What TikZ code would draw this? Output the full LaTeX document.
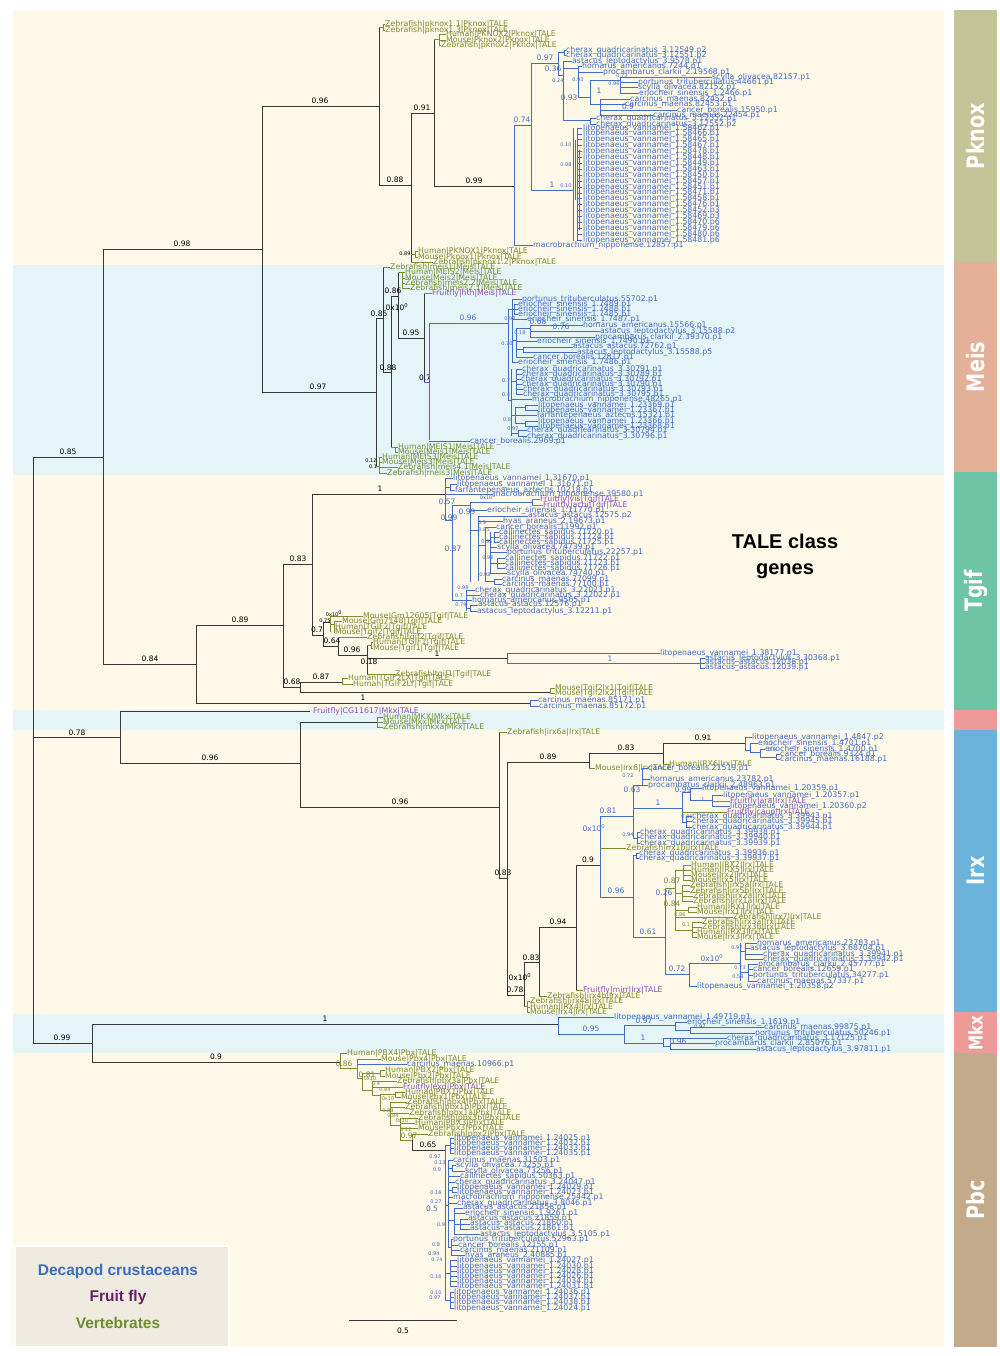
\documentclass[tikz,border=0pt]{standalone}
\usepackage{fontspec}
\setmainfont{DejaVu Sans}
\newfontfamily\legfont{Liberation Sans}
\newfontfamily\sidefont{DejaVu Sans}[FakeStretch=0.8]
\catcode`\_=12
\definecolor{cream}{RGB}{253,248,231}
\definecolor{lblue}{RGB}{229,244,247}
\definecolor{cb}{RGB}{68,108,196}
\definecolor{cv}{RGB}{122,142,50}
\definecolor{cf}{RGB}{140,78,190}
\definecolor{lk}{RGB}{55,55,55}
\definecolor{cPk}{RGB}{195,197,152}
\definecolor{cMe}{RGB}{229,176,152}
\definecolor{cTg}{RGB}{110,197,166}
\definecolor{cPi}{RGB}{238,154,152}
\definecolor{cIr}{RGB}{107,179,218}
\definecolor{cPb}{RGB}{194,170,138}
\definecolor{legbg}{RGB}{239,235,224}
\definecolor{legb}{RGB}{60,110,190}
\definecolor{legf}{RGB}{105,30,105}
\definecolor{legv}{RGB}{112,140,50}
\newcounter{nn}
\newcommand\Lb[3]{\stepcounter{nn}\node[lf,text=cb] (n\thenn) at (#1,#2) {#3};}
\newcommand\Lv[3]{\stepcounter{nn}\node[lf,text=cv] (n\thenn) at (#1,#2) {#3};}
\newcommand\Lp[3]{\stepcounter{nn}\node[lf,text=cf] (n\thenn) at (#1,#2) {#3};}
\newcommand\Bk[3]{\stepcounter{nn}\node[bsk,text=black] (n\thenn) at (#1,#2) {#3};}
\newcommand\Bb[3]{\stepcounter{nn}\node[bsk,text=cb] (n\thenn) at (#1,#2) {#3};}
\newcommand\Bv[3]{\stepcounter{nn}\node[bsk,text=cv] (n\thenn) at (#1,#2) {#3};}
\newcommand\Sk[3]{\stepcounter{nn}\node[sml,text=black] (n\thenn) at (#1,#2) {#3};}
\newcommand\Sb[3]{\stepcounter{nn}\node[sml,text=cb] (n\thenn) at (#1,#2) {#3};}
\newcommand\Sv[3]{\stepcounter{nn}\node[sml,text=cv] (n\thenn) at (#1,#2) {#3};}
\newcommand\TB[4]{\draw[tb] (#1,#3) -- (#2,#3); \Lb{#2}{#3}{#4}}
\newcommand\TV[4]{\draw[tv] (#1,#3) -- (#2,#3); \Lv{#2}{#3}{#4}}
\newcommand\TP[4]{\draw[tv] (#1,#3) -- (#2,#3); \Lp{#2}{#3}{#4}}
\newcommand\XO{0x10\textsuperscript{0}}
\begin{document}
\begin{tikzpicture}[x=1pt,y=-1pt,
  lf/.style={anchor=west,inner sep=0pt,font=\fontsize{7.8}{8}\selectfont},
  bsk/.style={inner sep=0pt,font=\fontsize{7.5}{8}\selectfont},
  sml/.style={inner sep=0pt,font=\fontsize{5}{5}\selectfont},
  tk/.style={draw=lk,line width=0.9pt},
  tb/.style={draw=cb,line width=0.6pt},
  tv/.style={draw=cv,line width=0.6pt},
  side/.style={text=white,rotate=90,font=\sidefont\bfseries\fontsize{24}{24}\selectfont},
  legt/.style={font=\legfont\bfseries\fontsize{15.5}{16}\selectfont}]
\useasboundingbox (0,0) rectangle (1000,1356);
% backgrounds
\fill[white] (0,0) rectangle (1000,1356);
\fill[cream] (13,10) rectangle (944,1347);
\fill[lblue] (13,265) rectangle (944,475);
\fill[lblue] (13,710) rectangle (944,730);
\fill[lblue] (13,1014) rectangle (944,1053);
% side bar
\fill[cPk] (954,10) rectangle (997,262);
\fill[cMe] (954,262) rectangle (997,472);
\fill[cTg] (954,472) rectangle (997,710);
\fill[cPi] (954,710) rectangle (997,730);
\fill[cIr] (954,730) rectangle (997,1012);
\fill[cPi] (954,1012) rectangle (997,1053);
\fill[cPb] (954,1053) rectangle (997,1347);
\node[side] (sPk) at (975.5,136) {Pknox};
\node[side] (sMe) at (975.5,367) {Meis};
\node[side] (sTg) at (975.5,591) {Tgif};
\node[side] (sIr) at (975.5,871) {Irx};
\node[side,font=\sidefont\bfseries\fontsize{19}{19}\selectfont] (sMk) at (975.5,1033) {Mkx};
\node[side] (sPb) at (975.5,1200) {Pbc};
% legend
\fill[legbg,draw=white,line width=1.5pt] (15,1246) rectangle (229,1347);
\node[legt,text=legb] (lg1) at (118,1271) {Decapod crustaceans};
\node[legt,text=legf] (lg2) at (118,1297) {Fruit fly};
\node[legt,text=legv] (lg3) at (118,1323) {Vertebrates};
\node[font=\legfont\bfseries\fontsize{20}{26}\selectfont,align=center] (tale) at (785,556) {TALE class\\genes};
% scale bar
\draw[line width=1pt,lk] (349,1320) -- (457,1320);
\Bk{403}{1331}{0.5}

% ================= backbone (black)
\draw[tk] (33,457) -- (33,1043) (33,457) -- (103,457)
  (103,249) -- (103,664) (103,249) -- (262,249)
  (262,106) -- (262,392) (262,106) -- (379,106)
  (379,27) -- (379,185) (379,185) -- (411,185)
  (411,113) -- (411,262) (411,113) -- (434,113)
  (434,39) -- (434,186) (434,186) -- (514,186);
\Bk{68}{452}{0.85} \Bk{182}{244}{0.98} \Bk{320}{101}{0.96} \Bk{395}{180}{0.88}
\Bk{422}{108}{0.91} \Bk{474}{181}{0.99} \Sk{405}{254}{0.89}
% Pknox vertebrates
\draw[tv] (379,27) -- (383,27) (383,24) -- (383,30) (434,39) -- (439,39) (439,34) -- (439,45)
  (411,254) -- (415,254) (415,251) -- (415,257);
\TV{383}{385}{24}{Zebrafish|pknox1.1|Pknox|TALE}
\TV{383}{385}{30}{Zebrafish|pknox1.3|Pknox|TALE}
\TV{439}{446}{34}{Human|PKNOX2|Pknox|TALE}
\TV{439}{446}{40}{Mouse|Pknox2|Pknox|TALE}
\TV{439}{441}{45}{Zebrafish|pknox2|Pknox|TALE}
\TV{415}{418}{251}{Human|PKNOX1|Pknox|TALE}
\TV{415}{418}{257}{Mouse|Pknox1|Pknox|TALE}
\TV{411}{433}{262}{Zebrafish|pknox1.2|Pknox|TALE}
% Pknox crustaceans
\draw[tb] (514,125) -- (514,245) (514,125) -- (531,125)
  (531,63) -- (531,190) (531,63) -- (558,63) (531,190) -- (573,190)
  (558,52) -- (558,75) (558,52) -- (564,52) (564,50) -- (564,55)
  (558,75) -- (563,75) (563,61) -- (563,120) (563,68) -- (578,68) (578,66) -- (578,97)
  (578,97) -- (590,97) (590,80) -- (590,104) (590,80) -- (620,80) (620,77) -- (620,93)
  (590,104) -- (600,104) (600,99) -- (600,115) (563,120) -- (590,120) (590,118) -- (590,124);
\TB{514}{533}{245}{macrobrachium_nipponense.12857.p1}
\TB{564}{566}{50}{cherax_quadricarinatus_3.12549.p2}
\TB{564}{566}{55}{cherax_quadricarinatus_3.12551.p2}
\TB{563}{572}{61}{astacus_leptodactylus_3.9578.p1}
\TB{578}{582}{66}{homarus_americanus.7244.p1}
\TB{578}{603}{72}{procambarus_clarkii_2.19568.p1}
\TB{620}{712}{77}{scylla_olivacea.82157.p1}
\TB{620}{638}{82}{portunus_trituberculatus.44661.p1}
\TB{620}{638}{87}{scylla_olivacea.82152.p1}
\TB{620}{639}{93}{eriocheir_sinensis_1.2466.p1}
\TB{600}{630}{99}{carcinus_maenas.82452.p1}
\TB{600}{625}{104}{carcinus_maenas.82453.p1}
\TB{600}{677}{110}{cancer_borealis.15950.p1}
\TB{600}{653}{115}{carcinus_maenas.22454.p1}
\TB{590}{596}{118}{cherax_quadricarinatus_3.12552.p1}
\TB{590}{596}{124}{cherax_quadricarinatus_3.12552.p2}
\Bb{522}{120}{0.74} \Bb{545}{58}{0.97} \Bb{552}{185}{1} \Bb{553}{69}{0.36}
\Sb{558}{81}{0.24} \Sb{578}{80}{0.93} \Bb{569}{98}{0.93} \Bb{599}{91}{1}
\Sb{622}{76}{0.73} \Sb{614}{84}{0.96} \Bb{628}{107}{0.9}
\draw[tb] (573,128) -- (573,241) (577,128) -- (577,241) (575,140) -- (575,200) (579,150) -- (579,230);
\foreach \id [count=\i from 0] in {1.58462.p1,1.58466.p1,1.58465.p1,1.58467.p1,1.58478.p1,1.58448.p1,1.58449.p1,1.58463.p1,1.58450.p1,1.58457.p1,1.58451.p1,1.58471.p1,1.58458.p1,1.58476.p1,1.58452.p3,1.58469.p3,1.58470.p6,1.58479.p6,1.58480.p6,1.58481.p6}{
  \pgfmathsetmacro\yy{128+\i*5.9}
  \draw[tb] (577,\yy) -- (582,\yy);
  \node[lf,text=cb] (lpk\i) at (583,\yy) {litopenaeus_vannamei_\id};
}
\Sb{566}{145}{0.10} \Sb{566}{165}{0.98} \Sb{566}{186}{0.10}

% ================= Meis
\draw[tk] (262,392) -- (376,392) (376,318) -- (376,466) (376,318) -- (383,318)
  (383,267) -- (383,372) (383,372) -- (391,372) (391,296) -- (391,447) (391,296) -- (398,296)
  (398,272) -- (398,338) (398,338) -- (424,338) (424,293) -- (424,382);
\Bk{318}{387}{0.97} \Bk{379}{314}{0.85} \Bk{393}{291}{0.86} \Bk{397}{307}{\XO}
\Bk{411}{333}{0.95} \Bk{388}{368}{0.88} \Bk{425}{378}{0.7} \Sk{371}{461}{0.12} \Sk{373}{467}{0.1}
\draw[tv] (398,272) -- (402,272) (402,272) -- (402,288) (391,447) -- (395,447) (395,447) -- (395,452)
  (376,466) -- (379,466) (379,457) -- (379,473);
\TV{383}{390}{267}{Zebrafish|meis1|Meis|TALE}
\TV{402}{405}{272}{Human|MEIS2|Meis|TALE}
\TV{402}{405}{278}{Mouse|Meis2|Meis|TALE}
\TV{402}{405}{283}{Zebrafish|meis2.2|Meis|TALE}
\TV{402}{410}{288}{Zebrafish|meis2.1|Meis|TALE}
\TP{424}{432}{293}{Fruitfly|hth|Meis|TALE}
\TV{395}{398}{447}{Human|MEIS1|Meis|TALE}
\TV{395}{398}{452}{Mouse|Meis1|Meis|TALE}
\TV{379}{382}{457}{Human|MEIS3|Meis|TALE}
\TV{379}{382}{462}{Mouse|Meis3|Meis|TALE}
\TV{379}{398}{467}{Zebrafish|meis4.1|Meis|TALE}
\TV{379}{387}{473}{Zebrafish|meis3|Meis|TALE}
\draw[tb] (424,382) -- (429,382) (429,323) -- (429,440) (429,323) -- (508,323)
  (508,309) -- (508,400) (508,309) -- (512,309) (508,400) -- (511,400)
  (512,299) -- (512,362) (512,309) -- (514,309) (514,304) -- (514,314)
  (512,340) -- (516,340) (516,328) -- (516,357) (516,328) -- (530,328) (530,325) -- (530,337)
  (516,349) -- (523,349) (523,347) -- (523,352)
  (511,369) -- (511,436) (511,381) -- (516,381) (516,369) -- (516,394)
  (511,415) -- (515,415) (515,407) -- (515,423) (515,407) -- (525,407) (525,405) -- (525,410)
  (515,423) -- (525,423) (525,421) -- (525,426) (511,433) -- (518,433) (518,430) -- (518,436);
\Bb{468}{318}{0.96}
\TB{512}{522}{299}{portunus_trituberculatus.55702.p1}
\TB{514}{518}{304}{eriocheir_sinensis_1.7489.p1}
\TB{514}{518}{309}{eriocheir_sinensis_1.7488.p1}
\TB{514}{518}{314}{eriocheir_sinensis_1.7485.p1}
\TB{512}{527}{319}{eriocheir_sinensis_1.7487.p1}
\TB{530}{583}{325}{homarus_americanus.15566.p1}
\TB{530}{600}{331}{astacus_leptodactylus_3.15588.p2}
\TB{530}{595}{337}{procambarus_clarkii_2.39370.p1}
\TB{516}{537}{341}{eriocheir_sinensis_1.7490.p1}
\TB{523}{573}{347}{astacus_astacus.72762.p1}
\TB{523}{577}{352}{astacus_leptodactylus_3.15588.p5}
\TB{516}{533}{357}{cancer_borealis.12817.p1}
\TB{512}{518}{362}{eriocheir_sinensis_1.7486.p1}
\TB{516}{522}{369}{cherax_quadricarinatus_3.30791.p1}
\TB{516}{522}{374}{cherax_quadricarinatus_3.30789.p1}
\TB{516}{521}{379}{cherax_quadricarinatus_3.30792.p1}
\TB{516}{522}{384}{cherax_quadricarinatus_3.30790.p1}
\TB{516}{523}{389}{cherax_quadricarinatus_3.30793.p1}
\TB{516}{523}{394}{cherax_quadricarinatus_3.30795.p1}
\TB{511}{532}{399}{macrobrachium_nipponense.48265.p1}
\TB{525}{538}{405}{litopenaeus_vannamei_1.23369.p1}
\TB{525}{538}{410}{litopenaeus_vannamei_1.23367.p1}
\TB{515}{537}{415}{farfantepenaeus_aztecus.15321.p1}
\TB{525}{538}{421}{litopenaeus_vannamei_1.23366.p1}
\TB{525}{538}{426}{litopenaeus_vannamei_1.23368.p1}
\TB{518}{527}{430}{cherax_quadricarinatus_3.30794.p1}
\TB{518}{527}{436}{cherax_quadricarinatus_3.30796.p1}
\TB{429}{470}{441}{cancer_borealis.2969.p1}
\Bb{538}{322}{0.68} \Bb{561}{327}{0.76} \Sb{510}{319}{0.98} \Sb{507}{344}{0.70} \Sb{520}{333}{0.18}
\Sb{506}{381}{0.7} \Sb{506}{395}{0.4} \Sb{507}{420}{0.8} \Sb{513}{429}{0.97}

% ================= Tgif
\draw[tk] (103,664) -- (196,664) (196,625) -- (196,703) (196,625) -- (283,625)
  (283,564) -- (283,687) (283,564) -- (312,564) (312,494) -- (312,635) (312,494) -- (445,494)
  (312,635) -- (323,635) (323,622) -- (323,646) (323,622) -- (330,622)
  (323,646) -- (338,646) (338,637) -- (338,655) (338,655) -- (367,655)
  (367,645) -- (367,674) (367,658) -- (507,658)
  (283,687) -- (300,687) (300,682) -- (300,692) (300,682) -- (342,682) (300,692) -- (550,692)
  (196,703) -- (530,703);
\Bk{150}{659}{0.84} \Bk{240}{620}{0.89} \Bk{298}{559}{0.83} \Bk{380}{489}{1}
\Bk{317}{630}{0.7} \Bk{332}{641}{0.64} \Bk{352}{650}{0.96} \Bk{369}{662}{0.18}
\Bk{437}{654}{1} \Bk{292}{682}{0.68} \Bk{321}{677}{0.87} \Bk{363}{698}{1}
\Sk{325}{621}{0.75} \Sk{334}{614}{\XO}
\draw[tv] (330,616) -- (330,632) (330,624) -- (334,624) (334,621) -- (334,632)
  (367,645) -- (371,645) (371,642) -- (371,648) (342,678) -- (342,684) (550,688) -- (550,693);
\TV{330}{363}{616}{Mouse|Gm12605|Tgif|TALE}
\TV{334}{342}{621}{Mouse|Gm7148|Tgif|TALE}
\TV{334}{335}{627}{Human|TGIF2|Tgif|TALE}
\TV{334}{335}{632}{Mouse|Tgif2|Tgif|TALE}
\TV{338}{367}{637}{Zebrafish|tgif2|Tgif|TALE}
\TV{371}{373}{642}{Human|TGIF1|Tgif|TALE}
\TV{371}{373}{648}{Mouse|Tgif1|Tgif|TALE}
\TV{367}{395}{674}{Zebrafish|tgif1|Tgif|TALE}
\TV{342}{348}{678}{Human|TGIF2LX|Tgif|TALE}
\TV{342}{353}{684}{Human|TGIF2LY|Tgif|TALE}
\TV{550}{555}{688}{Mouse|Tgif2lx1|Tgif|TALE}
\TV{550}{555}{693}{Mouse|Tgif2lx2|Tgif|TALE}
% Tgif crustaceans
\draw[tb] (445,478) -- (445,520) (445,487) -- (450,487) (450,484) -- (450,490)
  (445,520) -- (452,520) (452,505) -- (452,600) (452,505) -- (470,505)
  (470,502) -- (470,582) (470,502) -- (532,502) (532,499) -- (532,505)
  (470,530) -- (478,530) (478,516) -- (478,581) (478,545) -- (485,545) (485,527) -- (485,581)
  (485,540) -- (490,540) (490,532) -- (490,573) (490,537) -- (494,537) (494,532) -- (494,542)
  (490,563) -- (497,563) (497,558) -- (497,568) (485,581) -- (494,581) (494,579) -- (494,584)
  (452,600) -- (466,600) (466,590) -- (466,611) (466,608) -- (470,608) (470,605) -- (470,611);
\TB{445}{453}{478}{litopenaeus_vannamei_1.31670.p1}
\TB{450}{457}{484}{litopenaeus_vannamei_1.31671.p1}
\TB{450}{455}{490}{farfantepenaeus_aztecus.10218.p1}
\TB{445}{493}{494}{macrobrachium_nipponense.39580.p1}
\TP{532}{540}{499}{Fruitfly|vis|Tgif|TALE}
\TP{532}{543}{505}{Fruitfly|achi|Tgif|TALE}
\TB{470}{487}{510}{eriocheir_sinensis_1.11770.p1}
\TB{478}{528}{516}{astacus_astacus.12575.p2}
\TB{478}{503}{521}{hyas_araneus_2.19673.p1}
\TB{485}{496}{527}{cancer_borealis.11992.p1}
\TB{494}{499}{532}{callinectes_sapidus.71720.p1}
\TB{494}{499}{537}{callinectes_sapidus.71724.p1}
\TB{494}{499}{542}{callinectes_sapidus.71725.p1}
\TB{490}{497}{547}{scylla_olivacea.74739.p1}
\TB{490}{507}{552}{portunus_trituberculatus.22257.p1}
\TB{497}{505}{558}{callinectes_sapidus.71722.p1}
\TB{497}{505}{563}{callinectes_sapidus.71723.p1}
\TB{497}{505}{568}{callinectes_sapidus.71726.p1}
\TB{490}{507}{573}{scylla_olivacea.74740.p1}
\TB{494}{502}{579}{carcinus_maenas.77099.p1}
\TB{494}{502}{584}{carcinus_maenas.77100.p1}
\TB{466}{475}{590}{cherax_quadricarinatus_3.22023.p1}
\TB{466}{480}{595}{cherax_quadricarinatus_3.22022.p1}
\TB{466}{472}{600}{homarus_americanus.9565.p1}
\TB{470}{478}{605}{astacus_astacus.12576.p1}
\TB{470}{477}{611}{astacus_leptodactylus_3.12211.p1}
\Bb{447}{502}{0.57} \Bb{449}{518}{0.99} \Bb{453}{549}{0.87} \Bb{467}{512}{0.99}
\Sb{488}{497}{\XO} \Sb{482}{523}{0.9} \Sb{484}{530}{0.85} \Sb{487}{542}{0.95} \Sb{488}{558}{0.98}
\Sb{485}{575}{0.98} \Sb{463}{588}{0.98} \Sb{459}{596}{0.7} \Sb{461}{605}{0.78}
\draw[tb] (507,653) -- (507,663) (507,663) -- (700,663) (700,658) -- (700,668) (530,700) -- (530,706);
\TB{507}{660}{653}{litopenaeus_vannamei_1.38177.p1}
\TB{700}{705}{658}{astacus_leptodactylus_3.30368.p1}
\TB{700}{705}{663}{astacus_astacus.12038.p1}
\TB{700}{705}{668}{astacus_astacus.12039.p1}
\TB{530}{538}{700}{carcinus_maenas.85171.p1}
\TB{530}{539}{706}{carcinus_maenas.85172.p1}
\Bb{610}{659}{1}

% ================= Mkx (fly, vertebrates) and Irx
\draw[tk] (33,737) -- (120,737) (120,711) -- (120,763) (120,711) -- (310,711)
  (120,763) -- (300,763) (300,722) -- (300,807) (300,722) -- (377,722)
  (300,807) -- (499,807) (499,732) -- (499,878) (499,878) -- (507,878)
  (507,762) -- (507,995) (507,762) -- (589,762) (589,753) -- (589,768) (589,753) -- (663,753)
  (663,743) -- (663,764) (663,743) -- (745,743)
  (507,995) -- (524,995) (524,962) -- (524,1006) (524,962) -- (539,962)
  (539,927) -- (539,996) (539,927) -- (576,927) (576,865) -- (576,990) (576,865) -- (600,865);
\Bk{77}{733}{0.78} \Bk{210}{758}{0.96} \Bk{400}{802}{0.96}
\Bk{503}{873}{0.83} \Bk{548}{757}{0.89} \Bk{626}{748}{0.83} \Bk{703}{738}{0.91}
\Bk{588}{860}{0.9} \Bk{558}{922}{0.94} \Bk{531}{958}{0.83} \Bk{520}{977}{\XO} \Bk{515}{990}{0.78}
\Lp{313}{711}{Fruitfly|CG11617|Mkx|TALE}
\draw[tv] (377,717) -- (377,727) (524,1006) -- (527,1006) (527,1001) -- (527,1012);
\TV{377}{383}{717}{Human|MKX|Mkx|TALE}
\TV{377}{383}{722}{Mouse|Mkx|Mkx|TALE}
\TV{377}{383}{727}{Zebrafish|mkxa|Mkx|TALE}
\TV{499}{507}{732}{Zebrafish|irx6a|Irx|TALE}
\TV{589}{595}{768}{Mouse|Irx6|Irx|TALE}
\TV{663}{669}{764}{Human|IRX6|Irx|TALE}
\TP{576}{583}{990}{Fruitfly|mirr|Irx|TALE}
\TV{539}{547}{996}{Zebrafish|irx4b|Irx|TALE}
\TV{527}{530}{1001}{Zebrafish|irx4a|Irx|TALE}
\TV{527}{530}{1007}{Human|IRX4|Irx|TALE}
\TV{527}{530}{1012}{Mouse|Irx4|Irx|TALE}
% Irx6 crustaceans
\draw[tb] (745,737) -- (745,750) (745,750) -- (750,750) (750,743) -- (750,752)
  (750,752) -- (760,752) (760,749) -- (760,757) (760,757) -- (776,757) (776,754) -- (776,759);
\TB{745}{752}{737}{litopenaeus_vannamei_1.4847.p2}
\TB{750}{758}{743}{eriocheir_sinensis_1.4701.p1}
\TB{760}{765}{749}{eriocheir_sinensis_1.4700.p1}
\TB{776}{780}{754}{cancer_borealis.9324.p1}
\TB{776}{780}{759}{carcinus_maenas.16188.p1}
\Sb{769}{744}{0.7} \Sb{772}{750}{0.9}
% Irx main crustacean clade
\draw[tb] (600,816) -- (600,897) (600,816) -- (633,816) (633,785) -- (633,838)
  (633,785) -- (642,785) (642,768) -- (642,785)
  (633,808) -- (682,808) (682,792) -- (682,822) (682,792) -- (690,792) (690,788) -- (690,800)
  (690,800) -- (712,800) (712,795) -- (712,806) (682,822) -- (686,822) (686,816) -- (686,827)
  (633,838) -- (637,838) (637,832) -- (637,843)
  (600,897) -- (633,897) (633,855) -- (633,937) (633,855) -- (636,855) (636,853) -- (636,858)
  (633,937) -- (665,937) (665,888) -- (665,974) (665,974) -- (689,974) (689,963) -- (689,986)
  (689,963) -- (740,963) (740,943) -- (740,981) (740,951) -- (745,951) (745,943) -- (745,959)
  (740,972) -- (748,972) (748,964) -- (748,981);
\TB{642}{648}{768}{cancer_borealis.21519.p1}
\TB{642}{650}{779}{homarus_americanus.23782.p1}
\TB{642}{648}{785}{procambarus_clarkii_2.48963.p1}
\TB{690}{702}{788}{litopenaeus_vannamei_1.20359.p1}
\TB{712}{723}{795}{litopenaeus_vannamei_1.20357.p1}
\TP{712}{730}{801}{Fruitfly|ara|Irx|TALE}
\TB{712}{730}{806}{litopenaeus_vannamei_1.20360.p2}
\TP{682}{727}{812}{Fruitfly|caup|Irx|TALE}
\TB{686}{692}{816}{cherax_quadricarinatus_3.39943.p1}
\TB{686}{692}{821}{cherax_quadricarinatus_3.39945.p1}
\TB{686}{692}{827}{cherax_quadricarinatus_3.39944.p1}
\TB{637}{640}{832}{cherax_quadricarinatus_3.39938.p1}
\TB{637}{640}{837}{cherax_quadricarinatus_3.39940.p1}
\TB{637}{640}{843}{cherax_quadricarinatus_3.39939.p1}
\TV{600}{626}{848}{Zebrafish|irx1b|Irx|TALE}
\TB{636}{639}{853}{cherax_quadricarinatus_3.39936.p1}
\TB{636}{639}{858}{cherax_quadricarinatus_3.39937.p1}
\TB{745}{757}{943}{homarus_americanus.23783.p1}
\TB{745}{750}{948}{astacus_leptodactylus_3.68704.p1}
\TB{745}{763}{954}{cherax_quadricarinatus_3.39941.p1}
\TB{745}{763}{959}{cherax_quadricarinatus_3.39942.p1}
\TB{748}{758}{964}{procambarus_clarkii_2.45777.p1}
\TB{748}{753}{969}{cancer_borealis.12659.p1}
\TB{748}{753}{975}{portunus_trituberculatus.34277.p1}
\TB{748}{757}{981}{carcinus_maenas.57337.p1}
\TB{689}{697}{986}{litopenaeus_vannamei_1.20358.p2}
\Bb{608}{811}{0.81} \Bb{632}{790}{0.63} \Bb{658}{803}{1} \Bb{594}{828}{\XO}
\Bb{616}{891}{0.96} \Bb{664}{893}{0.26} \Bb{648}{932}{0.61} \Bb{677}{969}{0.72}
\Bb{712}{958}{\XO} \Bb{683}{790}{0.99} \Sb{628}{835}{0.94} \Sb{628}{776}{0.72}
\Sb{687}{817}{0.86} \Sb{703}{800}{1} \Sb{737}{948}{0.97} \Sb{740}{968}{0.73} \Sb{738}{977}{0.59}
% Irx vertebrate clade
\draw[tv] (665,888) -- (675,888) (675,870) -- (675,930)
  (675,870) -- (683,870) (683,865) -- (683,880) (675,893) -- (682,893) (682,885) -- (682,901)
  (675,910) -- (688,910) (688,907) -- (688,912) (675,930) -- (692,930) (692,922) -- (692,937);
\TV{683}{691}{865}{Human|IRX2|Irx|TALE}
\TV{683}{691}{870}{Human|IRX5|Irx|TALE}
\TV{683}{691}{875}{Mouse|Irx2|Irx|TALE}
\TV{683}{691}{880}{Mouse|Irx5|Irx|TALE}
\TV{682}{690}{885}{Zebrafish|irx5a|Irx|TALE}
\TV{682}{690}{891}{Zebrafish|irx5b|Irx|TALE}
\TV{682}{693}{896}{Zebrafish|irx2a|Irx|TALE}
\TV{682}{693}{901}{Zebrafish|irx1a|Irx|TALE}
\TV{688}{697}{907}{Human|IRX1|Irx|TALE}
\TV{688}{697}{912}{Mouse|Irx1|Irx|TALE}
\TV{675}{733}{917}{Zebrafish|irx7|Irx|TALE}
\TV{692}{702}{922}{Zebrafish|irx3a|Irx|TALE}
\TV{692}{702}{927}{Zebrafish|irx3b|Irx|TALE}
\TV{692}{697}{932}{Human|IRX3|Irx|TALE}
\TV{692}{697}{937}{Mouse|Irx3|Irx|TALE}
\Bv{672}{881}{0.87} \Bv{672}{904}{0.84} \Sv{680}{915}{0.86} \Sv{686}{925}{0.1}

% ================= Mkx crustaceans and Pbc
\draw[tk] (33,1043) -- (92,1043) (92,1024) -- (92,1062) (92,1024) -- (558,1024) (92,1062) -- (340,1062);
\Bk{325}{1019}{1} \Bk{62}{1038}{0.99} \Bk{216}{1057}{0.9}
\draw[tb] (558,1017) -- (558,1034) (558,1034) -- (624,1034) (624,1025) -- (624,1043)
  (624,1025) -- (675,1025) (675,1022) -- (675,1030) (675,1030) -- (690,1030) (690,1027) -- (690,1033)
  (624,1043) -- (663,1043) (663,1038) -- (663,1046) (663,1046) -- (670,1046) (670,1043) -- (670,1049);
\TB{558}{614}{1017}{litopenaeus_vannamei_1.49719.p1}
\TB{675}{687}{1022}{eriocheir_sinensis_1.1619.p1}
\TB{690}{764}{1027}{carcinus_maenas.99875.p1}
\TB{690}{755}{1033}{portunus_trituberculatus.50246.p1}
\TB{663}{727}{1038}{cherax_quadricarinatus_3.17125.p1}
\TB{670}{715}{1043}{procambarus_clarkii_2.85076.p1}
\TB{670}{756}{1049}{astacus_leptodactylus_3.97811.p1}
\Bb{591}{1029}{0.95} \Bb{643}{1038}{1} \Bb{644}{1021}{0.97} \Bb{678}{1042}{0.96} \Sb{700}{1027}{0.97}
% Pbc vertebrates
\draw[tv] (340,1053) -- (340,1068) (340,1068) -- (357,1068) (357,1059) -- (357,1078)
  (357,1078) -- (362,1078) (362,1073) -- (362,1090) (362,1073) -- (380,1073) (380,1070) -- (380,1076)
  (362,1090) -- (372,1090) (372,1081) -- (372,1095) (372,1095) -- (380,1095) (380,1094) -- (380,1110)
  (380,1094) -- (395,1094) (395,1092) -- (395,1097) (380,1110) -- (390,1110) (390,1102) -- (390,1125)
  (390,1125) -- (400,1125) (400,1118) -- (400,1140) (400,1140) -- (412,1140) (412,1134) -- (412,1140);
\TV{340}{347}{1053}{Human|PBX4|Pbx|TALE}
\TV{357}{381}{1059}{Mouse|Pbx4|Pbx|TALE}
\TB{357}{407}{1064}{carcinus_maenas.10966.p1}
\TV{380}{385}{1070}{Human|PBX2|Pbx|TALE}
\TV{380}{385}{1076}{Mouse|Pbx2|Pbx|TALE}
\TV{372}{397}{1081}{Zebrafish|pbx3a|Pbx|TALE}
\TP{372}{403}{1087}{Fruitfly|exd|Pbx|TALE}
\TV{395}{405}{1092}{Human|PBX1|Pbx|TALE}
\TV{395}{401}{1097}{Mouse|Pbx1|Pbx|TALE}
\TV{390}{407}{1102}{Zebrafish|pbx4|Pbx|TALE}
\TV{390}{405}{1107}{Zebrafish|pbx1b|Pbx|TALE}
\TV{390}{409}{1113}{Zebrafish|pbx1a|Pbx|TALE}
\TV{400}{418}{1118}{Zebrafish|pbx3b|Pbx|TALE}
\TV{400}{415}{1123}{Human|PBX3|Pbx|TALE}
\TV{400}{418}{1128}{Mouse|Pbx3|Pbx|TALE}
\TV{412}{428}{1134}{Zebrafish|pbx2|Pbx|TALE}
\Bv{344}{1064}{0.86} \Bv{367}{1075}{0.81} \Sv{385}{1090}{0.84} \Sv{376}{1084}{0.4}
\Sv{370}{1079}{0x10} \Sv{388}{1099}{0x10} \Sv{388}{1111}{0.89} \Sv{393}{1116}{0.84} \Sv{402}{1121}{0x10}
\Sv{406}{1130}{0.12} \Bv{409}{1136}{0.97}
\draw[tk] (412,1140) -- (412,1150) (412,1150) -- (445,1150);
\Bk{428}{1145}{0.65}
% Pbc crustaceans
\draw[tb] (445,1145) -- (445,1300) (445,1145) -- (450,1145) (450,1138) -- (450,1153)
  (445,1205) -- (448,1205) (448,1160) -- (448,1247)
  (448,1168) -- (452,1168) (452,1165) -- (452,1171) (448,1190) -- (452,1190) (452,1187) -- (452,1192)
  (448,1220) -- (454,1220) (454,1208) -- (454,1234) (454,1224) -- (460,1224) (460,1219) -- (460,1229)
  (448,1247) -- (451,1247) (451,1239) -- (451,1255)
  (445,1273) -- (450,1273) (450,1260) -- (450,1286) (445,1300) -- (450,1300) (450,1292) -- (450,1308);
\TB{450}{454}{1138}{litopenaeus_vannamei_1.24025.p1}
\TB{450}{454}{1143}{litopenaeus_vannamei_1.24032.p1}
\TB{450}{454}{1148}{litopenaeus_vannamei_1.24033.p1}
\TB{450}{454}{1153}{litopenaeus_vannamei_1.24035.p1}
\TB{448}{453}{1160}{carcinus_maenas.31503.p1}
\TB{452}{456}{1165}{scylla_olivacea.73255.p1}
\TB{452}{465}{1171}{scylla_olivacea.73256.p1}
\TB{448}{460}{1176}{callinectes_sapidus.50363.p1}
\TB{448}{455}{1182}{cherax_quadricarinatus_3.24047.p1}
\TB{452}{457}{1187}{litopenaeus_vannamei_1.24029.p1}
\TB{452}{457}{1192}{litopenaeus_vannamei_1.24023.p1}
\TB{448}{453}{1197}{macrobrachium_nipponense.25442.p1}
\TB{448}{457}{1203}{cherax_quadricarinatus_3.8046.p1}
\TB{454}{463}{1208}{astacus_astacus.21858.p1}
\TB{454}{465}{1213}{eriocheir_sinensis_1.9261.p1}
\TB{460}{468}{1219}{astacus_astacus.21859.p1}
\TB{460}{470}{1224}{astacus_astacus.21860.p1}
\TB{460}{470}{1229}{astacus_astacus.21861.p1}
\TB{454}{480}{1234}{astacus_leptodactylus_3.5105.p1}
\TB{451}{453}{1239}{portunus_trituberculatus.52963.p1}
\TB{451}{458}{1245}{cancer_borealis.12155.p1}
\TB{451}{460}{1250}{carcinus_maenas.21109.p1}
\TB{451}{465}{1255}{hyas_araneus_2.40885.p1}
\TB{450}{457}{1260}{litopenaeus_vannamei_1.24027.p1}
\TB{450}{457}{1266}{litopenaeus_vannamei_1.24030.p1}
\TB{450}{457}{1271}{litopenaeus_vannamei_1.24028.p1}
\TB{450}{457}{1276}{litopenaeus_vannamei_1.24026.p1}
\TB{450}{457}{1281}{litopenaeus_vannamei_1.24034.p1}
\TB{450}{457}{1286}{litopenaeus_vannamei_1.24031.p1}
\TB{450}{454}{1292}{litopenaeus_vannamei_1.24036.p1}
\TB{450}{454}{1297}{litopenaeus_vannamei_1.24037.p1}
\TB{450}{454}{1302}{litopenaeus_vannamei_1.24038.p1}
\TB{450}{454}{1308}{litopenaeus_vannamei_1.24024.p1}
\Sb{435}{1157}{0.97} \Sb{440}{1163}{0.13} \Sb{437}{1170}{0.9} \Sb{436}{1193}{0.16} \Sb{436}{1202}{0.27}
\Bb{432}{1209}{0.5} \Sb{441}{1225}{0.9} \Sb{436}{1245}{0.8} \Sb{434}{1254}{0.94} \Sb{437}{1260}{0.74}
\Sb{436}{1277}{0.16} \Sb{436}{1293}{0.10} \Sb{435}{1298}{0.97}
\end{tikzpicture}
\end{document}
